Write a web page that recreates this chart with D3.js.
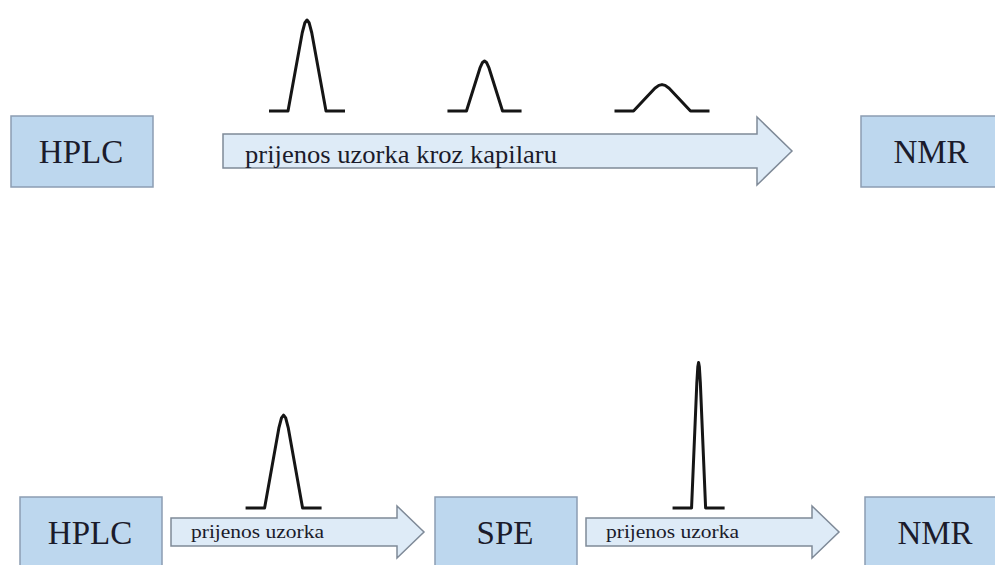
<!DOCTYPE html>
<html lang="hr"><head><meta charset="utf-8">
<script src="https://cdn.jsdelivr.net/npm/d3@7"></script>
<style>
  body { margin: 0; background: #fff; }
  svg { display: block; font-family: "Liberation Serif", serif; }
</style>
</head>
<body>
<script>
// HPLC -> NMR direct vs. HPLC -> SPE -> NMR (peak broadening vs. focusing)

// data
var topStages = ["HPLC", "NMR"];
var bottomStages = ["HPLC", "SPE", "NMR"];
var topArrowLabels = ["prijenos uzorka kroz kapilaru"];
var bottomArrowLabels = ["prijenos uzorka", "prijenos uzorka"];
// relative peak height / half-width (first peak = 1)
var topPeakHeights = [1, 0.55, 0.29];
var topPeakWidths = [1, 0.95, 1.5];
var bottomPeakHeights = [1.02, 1.6];
var bottomPeakWidths = [1, 0.37];

var width = 995, height = 565;
var boxW = 142, boxH = 71;
var serif = "Liberation Serif";

var hScale = d3.scaleLinear().domain([0, 1]).range([0, 91]);
var wScale = d3.scaleLinear().domain([0, 1]).range([0, 19]);

var peakLine = d3.line()
    .x(d => d[0])
    .y(d => d[1]);

// straight flanks, slightly rounded top
function peakPoints(cx, base, h, w) {
    var ext = 19;
    return [
        [cx - w - ext, base],
        [cx - w, base],
        [cx - w * 0.25, base - h * 0.86],
        [cx - w * 0.11, base - h * 0.97],
        [cx, base - h],
        [cx + w * 0.11, base - h * 0.97],
        [cx + w * 0.25, base - h * 0.86],
        [cx + w, base],
        [cx + w + ext, base]
    ];
}

function arrowPath(x0, x1, cy, shaft, head, headLen) {
    var xh = x1 - headLen;
    return "M" + x0 + "," + (cy - shaft / 2) +
        "L" + xh + "," + (cy - shaft / 2) +
        "L" + xh + "," + (cy - head / 2) +
        "L" + x1 + "," + cy +
        "L" + xh + "," + (cy + head / 2) +
        "L" + xh + "," + (cy + shaft / 2) +
        "L" + x0 + "," + (cy + shaft / 2) + "Z";
}

function label(g, x, y, size, txt) {
    return g.append("text")
        .attr("x", x)
        .attr("y", y)
        .attr("font-family", serif)
        .attr("font-size", size)
        .attr("fill", "#1b1b2b")
        .text(txt);
}

function drawBoxes(g, stages, x, top) {
    stages.forEach(function(d, i) {
        g.append("rect")
            .attr("x", x(i))
            .attr("y", top)
            .attr("width", boxW)
            .attr("height", boxH)
            .attr("fill", "#bdd7ee")
            .attr("stroke", "#8c9db3")
            .attr("stroke-width", 1.5);
        label(g, x(i) + boxW / 2 - 1, top + 47, 33, d)
            .attr("text-anchor", "middle");
    });
}

function drawPeaks(g, heights, widths, cx, base) {
    g.selectAll("path.peak").data(heights).enter()
        .append("path").attr("class", "peak")
        .attr("d", (d, i) => peakLine(peakPoints(cx(i), base, hScale(d), wScale(widths[i]))))
        .attr("fill", "none")
        .attr("stroke", "#151515")
        .attr("stroke-width", 3)
        .attr("stroke-linejoin", "round");
}

var svg = d3.select("body").append("svg")
    .attr("width", width)
    .attr("height", height);

// ---- top row ----
var topG = svg.append("g");
var topTop = 116;
var xTop = d3.scaleLinear().domain([0, 1]).range([11, 861]);
var topCy = topTop + 35;
var tA0 = xTop(0) + boxW + 70, tA1 = xTop(1) - 69;

drawBoxes(topG, topStages, xTop, topTop);

topArrowLabels.forEach(function(d) {
    topG.append("path")
        .attr("d", arrowPath(tA0, tA1, topCy, 34, 68, 35))
        .attr("fill", "#deebf7")
        .attr("stroke", "#7f8a98")
        .attr("stroke-width", 1.5);
    label(topG, tA0 + 22, topCy + 12, 26, d)
        .attr("textLength", 312)
        .attr("lengthAdjust", "spacingAndGlyphs");
});

var topPeakX = d3.scalePoint().domain(d3.range(topPeakHeights.length)).range([307, 662]);
drawPeaks(topG, topPeakHeights, topPeakWidths, topPeakX, topCy - 34 - 6);

// ---- bottom row ----
var botG = svg.append("g");
var botTop = 497;
var xBot = d3.scaleLinear().domain([0, 1, 2]).range([20, 435, 865]);
var botCy = botTop + 35;
var arrowLen = 253;
var botArrowX = bottomArrowLabels.map((d, i) => xBot(i) + boxW + 9);

drawBoxes(botG, bottomStages, xBot, botTop);

bottomArrowLabels.forEach(function(d, i) {
    botG.append("path")
        .attr("d", arrowPath(botArrowX[i], botArrowX[i] + arrowLen, botCy, 28, 52, 27))
        .attr("fill", "#deebf7")
        .attr("stroke", "#7f8a98")
        .attr("stroke-width", 1.5);
    label(botG, botArrowX[i] + 20, botCy + 6, 19, d)
        .attr("textLength", 133)
        .attr("lengthAdjust", "spacingAndGlyphs");
});

drawPeaks(botG, bottomPeakHeights, bottomPeakWidths, i => botArrowX[i] + arrowLen * 0.445, botCy - 24);
</script>
</body></html>
